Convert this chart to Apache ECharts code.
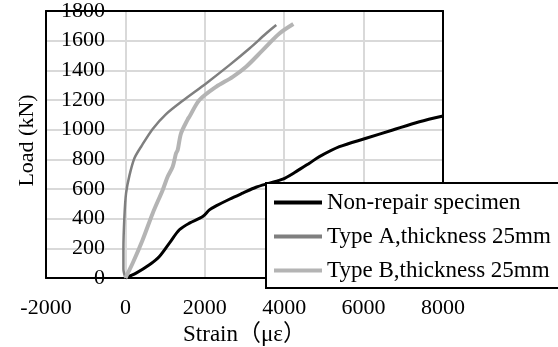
<!DOCTYPE html>
<html>
<head>
<meta charset="utf-8">
<script src="https://cdn.jsdelivr.net/npm/echarts@6/dist/echarts.min.js"></script>
<style>html,body{margin:0;padding:0;background:#fff;}#c{width:558px;height:347px;}</style>
</head>
<body>
<div id="c"></div>
<script>
const seriesNames = ['Non-repair specimen', 'Type A,thickness 25mm', 'Type B,thickness 25mm'];
const xTicks = [-2000, 0, 2000, 4000, 6000, 8000];
const yTicks = [0, 200, 400, 600, 800, 1000, 1200, 1400, 1600, 1800];

const nonRepair = [
  [0, 0], [269, 33], [605, 89], [856, 145], [1108, 235], [1360, 325], [1612, 370],
  [1948, 414], [2116, 459], [2284, 486], [2620, 531], [2955, 572], [3291, 612],
  [3627, 639], [3963, 666], [4299, 717], [4635, 774], [4887, 818], [5391, 885],
  [6063, 942], [6735, 998], [7406, 1053], [8000, 1092]
];
const typeA = [
  [0, 0], [-50, 60], [-50, 190], [-25, 414], [17, 572], [101, 690], [227, 807],
  [395, 885], [688, 1005], [1025, 1105], [1444, 1195], [2033, 1312], [2620, 1435],
  [3124, 1547], [3543, 1648], [3800, 1705]
];
const typeB = [
  [0, 0], [185, 101], [436, 258], [688, 437], [940, 594], [1066, 684], [1192, 751],
  [1275, 841], [1317, 863], [1401, 975], [1570, 1070], [1612, 1087], [1864, 1200],
  [2284, 1289], [2704, 1356], [3040, 1424], [3459, 1536], [3879, 1648], [4230, 1712]
];

const serif = "'Liberation Serif', 'Times New Roman', 'Noto Sans CJK SC', serif";
const xMin = xTicks[0], xMax = xTicks[xTicks.length - 1];
const yMin = yTicks[0], yMax = yTicks[yTicks.length - 1];
const chart = echarts.init(document.getElementById('c'), null, {renderer: 'canvas'});
const mk = (name, data, color, width) => ({
  name, type: 'line', data, symbol: 'none', smooth: 0.3, xAxisIndex: 0, yAxisIndex: 0,
  lineStyle: {color, width}, itemStyle: {color}, z: 3
});
const borderAxis = (position) => ({
  type: 'value', position, min: position === 'top' ? xMin : yMin, max: position === 'top' ? xMax : yMax,
  axisLine: {show: true, onZero: false, lineStyle: {color: '#000', width: 2}},
  axisTick: {show: false}, axisLabel: {show: false}, splitLine: {show: false}
});
chart.setOption({
  animation: false,
  backgroundColor: '#fff',
  grid: {left: 46, right: 115, top: 11, bottom: 69, containLabel: false, outerBoundsMode: 'none'},
  xAxis: [{
    type: 'value', min: xMin, max: xMax, interval: 2000,
    name: 'Strain（με）', nameLocation: 'middle', nameGap: 42,
    nameTextStyle: {fontFamily: serif, fontSize: 23, color: '#000'},
    axisLine: {show: true, onZero: false, lineStyle: {color: '#000', width: 2}},
    axisTick: {show: false},
    axisLabel: {fontFamily: serif, fontSize: 22, color: '#000', margin: 19, formatter: v => String(v)},
    splitLine: {show: true, lineStyle: {color: '#d9d9d9', width: 2, type: 'solid'}}
  }, borderAxis('top')],
  yAxis: [{
    type: 'value', min: yMin, max: yMax, interval: 200, position: 'left',
    axisLine: {show: false, onZero: false},
    axisTick: {show: false},
    axisLabel: {fontFamily: serif, fontSize: 22, color: '#000', margin: -59,
                padding: [3, 0, 0, 0], formatter: v => String(v)},
    splitLine: {show: true, lineStyle: {color: '#d9d9d9', width: 2, type: 'solid'}}
  }, Object.assign(borderAxis('left'), {
    name: 'Load (kN)', nameLocation: 'middle', nameGap: 8,
    nameTextStyle: {fontFamily: serif, fontSize: 22, color: '#000', padding: [0, 0, 0, 8]}
  }), borderAxis('right')],
  legend: {
    orient: 'vertical', left: 266, top: 183,
    backgroundColor: '#fff', borderColor: '#000', borderWidth: 2,
    padding: [8, 80, 6, 8], itemWidth: 48, itemHeight: 22, itemGap: 11,
    icon: 'path://M0,10 L48,10 L48,14 L0,14 Z',
    textStyle: {fontFamily: serif, fontSize: 23, color: '#000'},
    data: seriesNames
  },
  series: [
    mk(seriesNames[0], nonRepair, '#000000', 3),
    mk(seriesNames[1], typeA, '#7f7f7f', 2.5),
    mk(seriesNames[2], typeB, '#b4b4b4', 4)
  ]
});
</script>
</body>
</html>
